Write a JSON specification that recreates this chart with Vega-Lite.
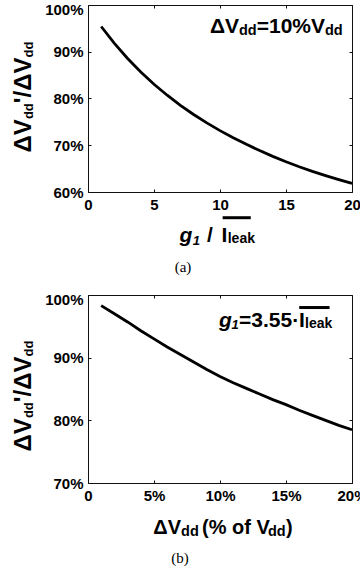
{
  "$schema": "https://vega.github.io/schema/vega-lite/v6.json",
  "background": "white",
  "padding": {"left": 11, "top": 1, "right": 0, "bottom": 0},
  "spacing": 15,
  "config": {
    "view": {"stroke": "#111", "strokeWidth": 1},
    "axis": {"domain": false, "grid": false, "labelFont": "Liberation Sans", "labelFontWeight": "bold", "labelFontSize": 15, "labelColor": "black", "tickColor": "#111", "tickSize": -3, "labelPadding": 8, "labelFlush": false, "labelOverlap": false},
    "text": {"font": "Liberation Sans", "fontWeight": "bold", "color": "black", "baseline": "alphabetic"},
    "title": {"font": "Liberation Serif", "fontSize": 15, "fontWeight": "normal", "color": "black", "orient": "bottom"}
  },
  "datasets": {
    "top": [
      {"g": 1, "r": 0.954}, {"g": 2, "r": 0.918}, {"g": 3, "r": 0.8855}, {"g": 4, "r": 0.8565}, {"g": 5, "r": 0.8305},
      {"g": 6, "r": 0.807}, {"g": 7, "r": 0.7855}, {"g": 8, "r": 0.7658}, {"g": 9, "r": 0.7478}, {"g": 10, "r": 0.7313},
      {"g": 11, "r": 0.7161}, {"g": 12, "r": 0.7019}, {"g": 13, "r": 0.6886}, {"g": 14, "r": 0.6762}, {"g": 15, "r": 0.6647},
      {"g": 16, "r": 0.654}, {"g": 17, "r": 0.6441}, {"g": 18, "r": 0.6349}, {"g": 19, "r": 0.6263}, {"g": 20, "r": 0.6183}
    ],
    "bottom": [
      {"d": 0.01, "r": 0.983}, {"d": 0.02, "r": 0.970}, {"d": 0.03, "r": 0.957}, {"d": 0.04, "r": 0.943}, {"d": 0.05, "r": 0.930},
      {"d": 0.06, "r": 0.917}, {"d": 0.07, "r": 0.905}, {"d": 0.08, "r": 0.893}, {"d": 0.09, "r": 0.881}, {"d": 0.10, "r": 0.870},
      {"d": 0.11, "r": 0.860}, {"d": 0.12, "r": 0.851}, {"d": 0.13, "r": 0.842}, {"d": 0.14, "r": 0.833}, {"d": 0.15, "r": 0.825},
      {"d": 0.16, "r": 0.816}, {"d": 0.17, "r": 0.808}, {"d": 0.18, "r": 0.800}, {"d": 0.19, "r": 0.792}, {"d": 0.20, "r": 0.785}
    ],
    "one": [{}]
  },
  "vconcat": [
    {
      "width": 264,
      "height": 187,
      "title": {"text": "(a)", "dx": -37, "offset": 12},
      "resolve": {"axis": {"x": "independent", "y": "independent"}},
      "layer": [
        {
          "data": {"name": "top"},
          "mark": {"type": "line", "color": "black", "strokeWidth": 2.8},
          "encoding": {
            "x": {"field": "g", "type": "quantitative", "scale": {"domain": [0, 20], "nice": false}, "axis": {"orient": "bottom", "values": [0, 5, 10, 15, 20], "format": "d", "title": null, "labelFlush": false, "labelOverlap": false}},
            "y": {"field": "r", "type": "quantitative", "scale": {"domain": [0.6, 1.0], "nice": false, "zero": false}, "axis": {"orient": "left", "values": [0.6, 0.7, 0.8, 0.9, 1.0], "format": ".0%", "title": null, "labelOffset": {"condition": {"test": "datum.value >= 0.999", "value": 4}, "value": 0}}}
          }
        },
        {
          "data": {"name": "top"},
          "mark": {"type": "line", "strokeOpacity": 0},
          "encoding": {
            "x": {"field": "g", "type": "quantitative", "scale": {"domain": [0, 20], "nice": false}, "axis": {"orient": "top", "values": [0, 5, 10, 15, 20], "labels": false, "title": null}},
            "y": {"field": "r", "type": "quantitative", "scale": {"domain": [0.6, 1.0], "nice": false, "zero": false}, "axis": {"orient": "right", "values": [0.6, 0.7, 0.8, 0.9, 1.0], "labels": false, "title": null}}
          }
        },
        {"data": {"name": "one"}, "mark": {"type": "text", "fontSize": 24, "angle": 270, "align": "left", "dx": -53.9, "dy": -57},
          "encoding": {"x": {"datum": 0, "axis": null}, "y": {"datum": 0.8, "axis": null}, "text": {"value": "ΔV"}}},
        {"data": {"name": "one"}, "mark": {"type": "text", "fontSize": 13, "angle": 270, "align": "left", "dx": -20.6, "dy": -55},
          "encoding": {"x": {"datum": 0, "axis": null}, "y": {"datum": 0.8, "axis": null}, "text": {"value": "dd"}}},
        {"data": {"name": "one"}, "mark": {"type": "text", "fontSize": 24, "angle": 270, "align": "left", "dx": -4.7, "dy": -57},
          "encoding": {"x": {"datum": 0, "axis": null}, "y": {"datum": 0.8, "axis": null}, "text": {"value": "'/ΔV"}}},
        {"data": {"name": "one"}, "mark": {"type": "text", "fontSize": 13, "angle": 270, "align": "left", "dx": 41, "dy": -55},
          "encoding": {"x": {"datum": 0, "axis": null}, "y": {"datum": 0.8, "axis": null}, "text": {"value": "dd"}}},
        {"data": {"name": "one"}, "mark": {"type": "text", "fontSize": 21, "fontStyle": "italic", "align": "left", "dx": 91.4, "dy": 50},
          "encoding": {"x": {"datum": 0, "axis": null}, "y": {"datum": 0.6, "axis": null}, "text": {"value": "g"}}},
        {"data": {"name": "one"}, "mark": {"type": "text", "fontSize": 13, "fontStyle": "italic", "align": "left", "dx": 104.7, "dy": 53},
          "encoding": {"x": {"datum": 0, "axis": null}, "y": {"datum": 0.6, "axis": null}, "text": {"value": "1"}}},
        {"data": {"name": "one"}, "mark": {"type": "text", "fontSize": 21, "align": "left", "dx": 119, "dy": 50},
          "encoding": {"x": {"datum": 0, "axis": null}, "y": {"datum": 0.6, "axis": null}, "text": {"value": "/"}}},
        {"data": {"name": "one"}, "mark": {"type": "text", "fontSize": 21, "align": "left", "dx": 133.4, "dy": 50},
          "encoding": {"x": {"datum": 0, "axis": null}, "y": {"datum": 0.6, "axis": null}, "text": {"value": "I"}}},
        {"data": {"name": "one"}, "mark": {"type": "text", "fontSize": 14, "align": "left", "dx": 139.7, "dy": 51},
          "encoding": {"x": {"datum": 0, "axis": null}, "y": {"datum": 0.6, "axis": null}, "text": {"value": "leak"}}},
        {"data": {"name": "one"}, "mark": {"type": "rule", "color": "black", "strokeWidth": 3},
          "encoding": {"x": {"datum": 10.2, "axis": null}, "x2": {"datum": 12.33}, "y": {"datum": 0.545, "axis": null}}},
        {"data": {"name": "one"}, "mark": {"type": "text", "fontSize": 21, "align": "right", "dx": -113, "dy": 28},
          "encoding": {"x": {"datum": 20, "axis": null}, "y": {"datum": 1.0, "axis": null}, "text": {"value": "ΔV"}}},
        {"data": {"name": "one"}, "mark": {"type": "text", "fontSize": 14.5, "align": "right", "dx": -95.3, "dy": 30},
          "encoding": {"x": {"datum": 20, "axis": null}, "y": {"datum": 1.0, "axis": null}, "text": {"value": "dd"}}},
        {"data": {"name": "one"}, "mark": {"type": "text", "fontSize": 21, "align": "right", "dx": -27, "dy": 28},
          "encoding": {"x": {"datum": 20, "axis": null}, "y": {"datum": 1.0, "axis": null}, "text": {"value": "=10%V"}}},
        {"data": {"name": "one"}, "mark": {"type": "text", "fontSize": 14.5, "align": "right", "dx": -9.3, "dy": 30},
          "encoding": {"x": {"datum": 20, "axis": null}, "y": {"datum": 1.0, "axis": null}, "text": {"value": "dd"}}}
      ]
    },
    {
      "width": 264,
      "height": 188,
      "title": {"text": "(b)", "dx": -40, "offset": 12},
      "resolve": {"axis": {"x": "independent", "y": "independent"}},
      "layer": [
        {
          "data": {"name": "bottom"},
          "mark": {"type": "line", "color": "black", "strokeWidth": 2.8},
          "encoding": {
            "x": {"field": "d", "type": "quantitative", "scale": {"domain": [0, 0.2], "nice": false}, "axis": {"orient": "bottom", "values": [0, 0.05, 0.1, 0.15, 0.2], "labelExpr": "datum.value < 0.001 ? '0' : format(datum.value, '.0%')", "title": null, "labelFlush": false, "labelOverlap": false}},
            "y": {"field": "r", "type": "quantitative", "scale": {"domain": [0.7, 1.0], "nice": false, "zero": false}, "axis": {"orient": "left", "values": [0.7, 0.8, 0.9, 1.0], "format": ".0%", "title": null, "labelOffset": {"condition": {"test": "datum.value >= 0.999", "value": 4}, "value": 0}}}
          }
        },
        {
          "data": {"name": "bottom"},
          "mark": {"type": "line", "strokeOpacity": 0},
          "encoding": {
            "x": {"field": "d", "type": "quantitative", "scale": {"domain": [0, 0.2], "nice": false}, "axis": {"orient": "top", "values": [0, 0.05, 0.1, 0.15, 0.2], "labels": false, "title": null}},
            "y": {"field": "r", "type": "quantitative", "scale": {"domain": [0.7, 1.0], "nice": false, "zero": false}, "axis": {"orient": "right", "values": [0.7, 0.8, 0.9, 1.0], "labels": false, "title": null}}
          }
        },
        {"data": {"name": "one"}, "mark": {"type": "text", "fontSize": 24, "angle": 270, "align": "left", "dx": -62.4, "dy": -57},
          "encoding": {"x": {"datum": 0, "axis": null}, "y": {"datum": 0.85, "axis": null}, "text": {"value": "ΔV"}}},
        {"data": {"name": "one"}, "mark": {"type": "text", "fontSize": 13, "angle": 270, "align": "left", "dx": -29.1, "dy": -55},
          "encoding": {"x": {"datum": 0, "axis": null}, "y": {"datum": 0.85, "axis": null}, "text": {"value": "dd"}}},
        {"data": {"name": "one"}, "mark": {"type": "text", "fontSize": 24, "angle": 270, "align": "left", "dx": -13.2, "dy": -57},
          "encoding": {"x": {"datum": 0, "axis": null}, "y": {"datum": 0.85, "axis": null}, "text": {"value": "'/ΔV"}}},
        {"data": {"name": "one"}, "mark": {"type": "text", "fontSize": 13, "angle": 270, "align": "left", "dx": 32.5, "dy": -55},
          "encoding": {"x": {"datum": 0, "axis": null}, "y": {"datum": 0.85, "axis": null}, "text": {"value": "dd"}}},
        {"data": {"name": "one"}, "mark": {"type": "text", "fontSize": 20, "align": "left", "dx": 65.3, "dy": 51},
          "encoding": {"x": {"datum": 0, "axis": null}, "y": {"datum": 0.7, "axis": null}, "text": {"value": "ΔV"}}},
        {"data": {"name": "one"}, "mark": {"type": "text", "fontSize": 14.5, "align": "left", "dx": 93.1, "dy": 53},
          "encoding": {"x": {"datum": 0, "axis": null}, "y": {"datum": 0.7, "axis": null}, "text": {"value": "dd"}}},
        {"data": {"name": "one"}, "mark": {"type": "text", "fontSize": 20, "align": "left", "dx": 114, "dy": 51},
          "encoding": {"x": {"datum": 0, "axis": null}, "y": {"datum": 0.7, "axis": null}, "text": {"value": "(% of V"}}},
        {"data": {"name": "one"}, "mark": {"type": "text", "fontSize": 14.5, "align": "left", "dx": 180, "dy": 53},
          "encoding": {"x": {"datum": 0, "axis": null}, "y": {"datum": 0.7, "axis": null}, "text": {"value": "dd"}}},
        {"data": {"name": "one"}, "mark": {"type": "text", "fontSize": 20, "align": "left", "dx": 198, "dy": 51},
          "encoding": {"x": {"datum": 0, "axis": null}, "y": {"datum": 0.7, "axis": null}, "text": {"value": ")"}}},
        {"data": {"name": "one"}, "mark": {"type": "text", "fontSize": 21, "fontStyle": "italic", "align": "left", "dx": 131, "dy": 32},
          "encoding": {"x": {"datum": 0, "axis": null}, "y": {"datum": 1.0, "axis": null}, "text": {"value": "g"}}},
        {"data": {"name": "one"}, "mark": {"type": "text", "fontSize": 13, "fontStyle": "italic", "align": "left", "dx": 143.5, "dy": 34},
          "encoding": {"x": {"datum": 0, "axis": null}, "y": {"datum": 1.0, "axis": null}, "text": {"value": "1"}}},
        {"data": {"name": "one"}, "mark": {"type": "text", "fontSize": 21, "align": "left", "dx": 151, "dy": 32},
          "encoding": {"x": {"datum": 0, "axis": null}, "y": {"datum": 1.0, "axis": null}, "text": {"value": "=3.55·"}}},
        {"data": {"name": "one"}, "mark": {"type": "text", "fontSize": 21, "align": "left", "dx": 211, "dy": 32},
          "encoding": {"x": {"datum": 0, "axis": null}, "y": {"datum": 1.0, "axis": null}, "text": {"value": "I"}}},
        {"data": {"name": "one"}, "mark": {"type": "text", "fontSize": 14, "align": "left", "dx": 217, "dy": 33},
          "encoding": {"x": {"datum": 0, "axis": null}, "y": {"datum": 1.0, "axis": null}, "text": {"value": "leak"}}},
        {"data": {"name": "one"}, "mark": {"type": "rule", "color": "black", "strokeWidth": 3},
          "encoding": {"x": {"datum": 0.16, "axis": null}, "x2": {"datum": 0.183}, "y": {"datum": 0.98, "axis": null}}}
      ]
    }
  ]
}
